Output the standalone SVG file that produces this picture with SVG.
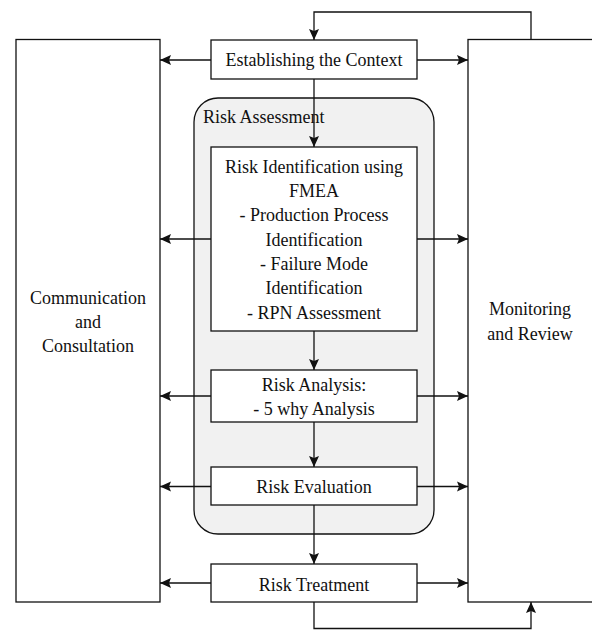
<svg xmlns="http://www.w3.org/2000/svg" width="592" height="630" viewBox="0 0 592 630">
<style>
.box{fill:#fff;stroke:#111;stroke-width:1.3}
.cont{fill:#f1f1f1;stroke:#111;stroke-width:1.3}
.t{font-family:"Liberation Serif","Times New Roman",serif;font-size:18px;fill:#111;text-anchor:middle}
.tl{font-family:"Liberation Serif","Times New Roman",serif;font-size:18px;fill:#111}
.c{fill:none;stroke:#111;stroke-width:1.3}
</style>
<defs>
<marker id="ah" markerUnits="userSpaceOnUse" markerWidth="12" markerHeight="12" viewBox="0 0 12 12" refX="11" refY="6" orient="auto">
<path d="M0,1 L11,6 L0,11 L2,6 z" fill="#111"/>
</marker>
</defs>
<rect width="592" height="630" fill="#fff"/>
<g id="communication">
<rect class="box" x="16" y="39.5" width="144" height="562.5"/>
<text class="t" x="88" y="303.5">Communication</text>
<text class="t" x="88" y="327.5">and</text>
<text class="t" x="88" y="352">Consultation</text>
</g>
<g id="monitoring">
<rect class="box" x="468" y="39.5" width="140" height="562.5"/>
<text class="t" x="530" y="315">Monitoring</text>
<text class="t" x="530" y="339.5">and Review</text>
</g>
<g id="risk-assessment">
<rect class="cont" x="194" y="98" width="240" height="436" rx="24" ry="24"/>
<text class="tl" x="203" y="123">Risk Assessment</text>
</g>
<g id="establishing">
<rect class="box" x="211" y="40" width="206" height="39"/>
<text class="t" x="314" y="66">Establishing the Context</text>
</g>
<g id="risk-identification">
<rect class="box" x="211" y="147" width="206" height="184"/>
<text class="t" x="314" y="172.5">Risk Identification using</text>
<text class="t" x="314" y="197">FMEA</text>
<text class="t" x="314" y="221">- Production Process</text>
<text class="t" x="314" y="245.5">Identification</text>
<text class="t" x="314" y="270">- Failure Mode</text>
<text class="t" x="314" y="294">Identification</text>
<text class="t" x="314" y="318.5">- RPN Assessment</text>
</g>
<g id="risk-analysis">
<rect class="box" x="211" y="370" width="206" height="52"/>
<text class="t" x="314" y="391">Risk Analysis:</text>
<text class="t" x="314" y="415">- 5 why Analysis</text>
</g>
<g id="risk-evaluation">
<rect class="box" x="211" y="467" width="206" height="38"/>
<text class="t" x="314" y="493">Risk Evaluation</text>
</g>
<g id="risk-treatment">
<rect class="box" x="211" y="564" width="206" height="38"/>
<text class="t" x="314" y="590.5">Risk Treatment</text>
</g>
<g id="connectors">
<path class="c" d="M314,79 V147" marker-end="url(#ah)"/>
<path class="c" d="M314,331 V370" marker-end="url(#ah)"/>
<path class="c" d="M314,422 V467" marker-end="url(#ah)"/>
<path class="c" d="M314,505 V564" marker-end="url(#ah)"/>
<path class="c" d="M211,60 H160" marker-end="url(#ah)"/>
<path class="c" d="M417,60 H468" marker-end="url(#ah)"/>
<path class="c" d="M211,239 H160" marker-end="url(#ah)"/>
<path class="c" d="M417,239 H468" marker-end="url(#ah)"/>
<path class="c" d="M211,396 H160" marker-end="url(#ah)"/>
<path class="c" d="M417,396 H468" marker-end="url(#ah)"/>
<path class="c" d="M211,486.5 H160" marker-end="url(#ah)"/>
<path class="c" d="M417,486.5 H468" marker-end="url(#ah)"/>
<path class="c" d="M211,583 H160" marker-end="url(#ah)"/>
<path class="c" d="M417,583 H468" marker-end="url(#ah)"/>
<path class="c" d="M531,39.5 V12 H314 V40" marker-end="url(#ah)"/>
<path class="c" d="M314,602 V628.5 H531 V602" marker-end="url(#ah)"/>
</g>
</svg>
